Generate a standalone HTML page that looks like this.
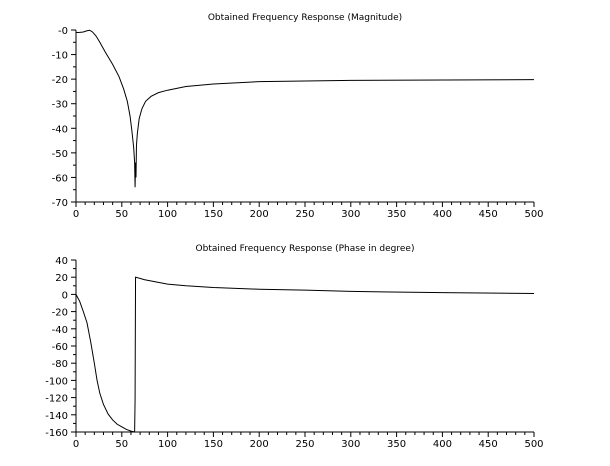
<!DOCTYPE html>
<html><head><style>body{margin:0;background:#fff}</style></head><body>
<svg id="s" width="610" height="461" xmlns="http://www.w3.org/2000/svg" font-family="DejaVu Sans, sans-serif" font-size="10">
<text x="305" y="20" font-size="9" text-anchor="middle">Obtained Frequency Response (Magnitude)</text>
<text x="305" y="251" font-size="9" text-anchor="middle">Obtained Frequency Response (Phase in degree)</text>
<g id="g" stroke="#000" fill="none" stroke-width="1"></g>
<g id="t" fill="#000"></g>
</svg>
<script>
var g=document.getElementById('g'),t=document.getElementById('t'),NS='http://www.w3.org/2000/svg';
function el(p,n,a){var e=document.createElementNS(NS,n);for(var k in a)e.setAttribute(k,a[k]);p.appendChild(e);return e;}
function X(f){return 76+f*(534-76)/500;}
function axes(y0,y1,vmin,vmax,maj,mn){
 var Y=function(v){return y1+(v-vmin)*(y0-y1)/(vmax-vmin);};
 el(g,'line',{x1:76,y1:y0,x2:76,y2:y1});el(g,'line',{x1:76,y1:y1,x2:534,y2:y1});
 for(var f=0;f<=500;f+=10){var m=f%50==0;el(g,'line',{x1:X(f),y1:y1,x2:X(f),y2:y1+(m?5:3)});
  if(m){var e=el(t,'text',{x:X(f),y:y1+15,'text-anchor':'middle'});e.textContent=f;}}
 for(var v=vmin;v<=vmax+1e-9;v+=mn){var m=Math.abs(Math.round(v/maj)*maj-v)<1e-6;el(g,'line',{x1:76,y1:Y(v),x2:76-(m?5:3),y2:Y(v)});
  if(m){var e=el(t,'text',{x:68,y:Y(v)+4,'text-anchor':'end'});e.textContent=(v==0&&vmax==0)?'-0':v;}}
 return Y;}
var Y1=axes(30,202,-70,0,10,5);
var Y2=axes(260,432,-160,40,20,10);
var mag=[[0,-1],[3,-1],[8,-0.8],[12,-0.3],[15,-0.1],[18,-0.8],[22,-2.5],[26,-5],[32,-9],[40,-14],[47,-19],[52,-24],[56,-29],[59,-35],[61,-41],[63,-48],[64,-54],[64.5,-64],[65,-54],[65.5,-60],[66,-47],[67,-42],[69,-36],[72,-32],[76,-29],[82,-27],[90,-25.5],[100,-24.5],[120,-23],[150,-22],[200,-21],[300,-20.5],[500,-20.2]];
var ph=[[0,0],[4,-8],[8,-20],[12,-33],[16,-55],[20,-80],[23,-100],[26,-115],[30,-128],[35,-139],[40,-146],[45,-151],[50,-154],[55,-157],[60,-159],[64,-160],[64.5,-122],[65,20],[75,17],[90,14],[100,12],[120,10],[150,8],[200,6],[250,5],[300,3.5],[400,2],[500,1]];
el(g,'polyline',{points:mag.map(function(p){return X(p[0])+','+Y1(p[1]);}).join(' ')});
el(g,'polyline',{points:ph.map(function(p){return X(p[0])+','+Y2(p[1]);}).join(' ')});
</script>
</body></html>
